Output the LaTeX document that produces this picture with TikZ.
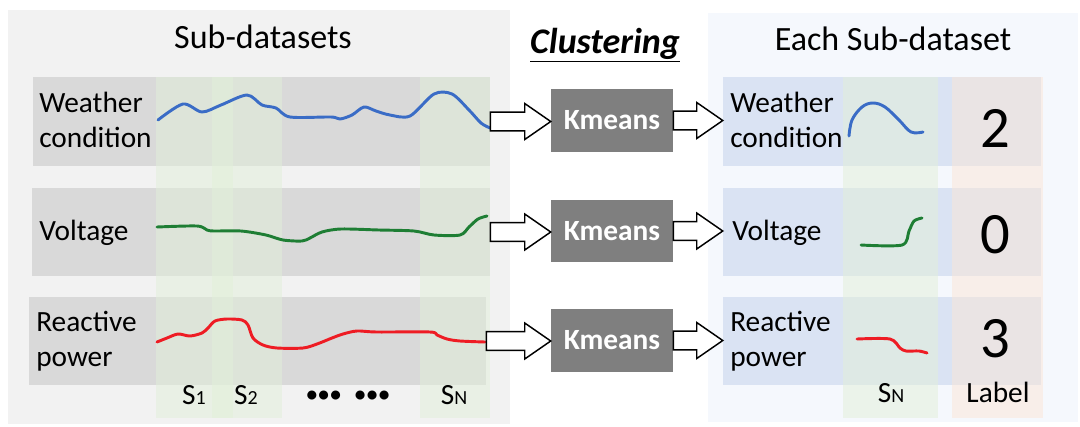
\documentclass[tikz,border=0pt]{standalone}
\usepackage{fontspec}
\setmainfont{Carlito}
\usetikzlibrary{fit,calc}

\definecolor{panelL}{HTML}{F2F2F2}
\definecolor{panelR}{HTML}{F5F8FD}
\definecolor{rowgray}{HTML}{D9D9D9}
\definecolor{rowblue}{HTML}{DAE3F3}
\definecolor{stripgreen}{HTML}{E2F0D9}
\definecolor{strippeach}{HTML}{FBE5D6}
\definecolor{kmgray}{HTML}{7F7F7F}
\definecolor{wcblue}{HTML}{3A6CC6}
\definecolor{vgreen}{HTML}{1E7E34}
\definecolor{rpred}{HTML}{EE1C24}

\newcommand{\subidx}[1]{{\fontsize{15}{15}\selectfont #1}}

\tikzset{
  box/.style={inner sep=0pt, draw=none},
  rowL/.style={box, fill=rowgray},
  rowR/.style={box, fill=rowblue},
  strip/.style={box, fill=stripgreen, fill opacity=0.5},
  labstrip/.style={box, fill=strippeach, fill opacity=0.5},
  kmbox/.style={box, fill=kmgray, text=white, minimum width=91.5pt, minimum height=47pt,
    font=\bfseries\fontsize{22}{26}\selectfont},
  lbl/.style={inner sep=0pt, align=left, font=\fontsize{22}{26.5}\selectfont},
  title/.style={inner sep=0pt, font=\fontsize{25.5}{30}\selectfont},
  num/.style={inner sep=0pt, font=\fontsize{44}{50}\selectfont},
  curve/.style={line width=2.2pt, line cap=round, line join=round},
  hollow/.style={draw=black, fill=white, line width=1.1pt, line join=miter,
    to path={let \p1=(\tikztostart), \p2=(\tikztotarget) in
      (\x1,\y1+7.1pt) -- (\x2-19.5pt,\y1+7.1pt) -- (\x2-19.5pt,\y1+13.5pt)
      -- (\x2,\y1) -- (\x2-19.5pt,\y1-13.5pt) -- (\x2-19.5pt,\y1-7.1pt)
      -- (\x1,\y1-7.1pt) -- cycle}}
}

\begin{document}
\begin{tikzpicture}[x=0.75pt, y=-0.75pt]
  \useasboundingbox (0,0) rectangle (1080,426);

  % panels
  \node[box, fill=panelL, fit={(8,10) (510,424)}] (left) {};
  \node[box, fill=panelR, fit={(708,13) (1078,422)}] (right) {};

  % rows of the sub-datasets
  \node[rowL, fit={(33,77) (490,166)}] (wcL) {};
  \node[rowL, fit={(32,188) (490,276)}] (vL) {};
  \node[rowL, fit={(29,297) (486,385)}] (rpL) {};
  \node[rowR, fit={(723,77) (1041,166)}] (wcR) {};
  \node[rowR, fit={(723,188) (1041,276)}] (vR) {};
  \node[rowR, fit={(723,297) (1041,385)}] (rpR) {};

  % segment strips
  \node[strip, fit={(156,77) (233,418)}] (s1strip) {};
  \node[strip, fit={(212,77) (282,418)}] (s2strip) {};
  \node[strip, fit={(420,77) (490,418)}] (snstrip) {};
  \node[strip, fit={(843,77) (938,418)}] (snRstrip) {};
  \node[labstrip, fit={(952,77) (1043,418)}] (labstrip) {};

  % curves
  \draw[curve, wcblue] plot[smooth, tension=0.5] coordinates {(158,120) (183,104) (202,112) (221,105)
    (247,95) (262,105) (276,108) (290,117) (331,117) (340,119) (352,115) (364,107) (376,111)
    (390,115) (410,116) (434,94) (452,94) (469,110) (481,123) (490,128)};
  \draw[curve, vgreen] plot[smooth, tension=0.5] coordinates {(157,227) (197,226) (207,230) (214,231)
    (241,231) (266,235) (283,240) (302,241) (310,238) (322,232) (341,229) (379,230) (414,231)
    (434,235) (460,235) (469,227) (478,219) (487,216)};
  \draw[curve, rpred] plot[smooth, tension=0.5] coordinates {(157,342) (167,338) (178,334) (190,336)
    (202,333) (208,328) (215,321) (227,319) (242,320) (248,325) (253,338) (263,345) (277,348)
    (303,348) (317,344) (332,338) (343,334) (357,331) (377,332) (430,332) (437,335) (447,339)
    (460,341) (485,342)};
  \draw[curve, wcblue] plot[smooth, tension=0.6] coordinates {(849,136) (852,120) (862,107) (873,103)
    (885,107) (899,120) (911,132) (923,132)};
  \draw[curve, vgreen] plot[smooth, tension=0.5] coordinates {(861,245) (902,245) (909,231) (914,221)
    (922,218)};
  \draw[curve, rpred] plot[smooth, tension=0.5] coordinates {(857,339) (890,339) (900,348) (906,351)
    (919,351) (927,353)};

  % clustering
  \node[kmbox] (km1) at (612,120.5) {Kmeans};
  \node[kmbox] (km2) at (612,231) {Kmeans};
  \node[kmbox] (km3) at (612,340.5) {Kmeans};

  \draw[hollow] (wcL.east) to (km1.west);
  \draw[hollow] (vL.east) to (km2.west);
  \draw[hollow] (rpL.east) to (km3.west);
  \draw[hollow] (km1.east) to (wcR.west);
  \draw[hollow] (km2.east) to (vR.west);
  \draw[hollow] (km3.east) to (rpR.west);

  % titles
  \node[title, anchor=base] (tL) at (263,48) {Sub-datasets};
  \node[title, anchor=base, font=\fontsize{27}{30}\selectfont] (tC) at (605,53)
    {\underline{\textbf{\textit{Clustering}}}};
  \node[title, anchor=base] (tR) at (893,50) {Each Sub-dataset};

  % row labels
  \node[lbl, anchor=north west] (wcLtxt) at (39,92) {Weather\\condition};
  \node[lbl, anchor=base west] (vLtxt) at (39,240) {Voltage};
  \node[lbl, anchor=north west] (rpLtxt) at (36,311) {Reactive\\power};
  \node[lbl, anchor=north west] (wcRtxt) at (730,92) {Weather\\condition};
  \node[lbl, anchor=base west] (vRtxt) at (732,240) {Voltage};
  \node[lbl, anchor=north west] (rpRtxt) at (730,311) {Reactive\\power};

  % labels
  \node[num, anchor=base] (n2) at (995,147) {2};
  \node[num, anchor=base] (n0) at (995,253) {0};
  \node[num, anchor=base] (n3) at (995,357) {3};

  % segment names
  \node[lbl, anchor=base] (s1) at (194,404) {S\subidx{1}};
  \node[lbl, anchor=base] (s2) at (246,404) {S\subidx{2}};
  \node[lbl, anchor=center, font=\fontsize{16}{16}\selectfont] (dots) at (348,396)
    {\textbf{•\kern1pt•\kern1pt•\hspace{0.65em}•\kern1pt•\kern1pt•}};
  \node[lbl, anchor=base] (sn) at (454,404) {S\subidx{N}};
  \node[lbl, anchor=base] (snR) at (891,402) {S\subidx{N}};
  \node[lbl, anchor=base] (lab) at (998,402) {Label};
\end{tikzpicture}
\end{document}
